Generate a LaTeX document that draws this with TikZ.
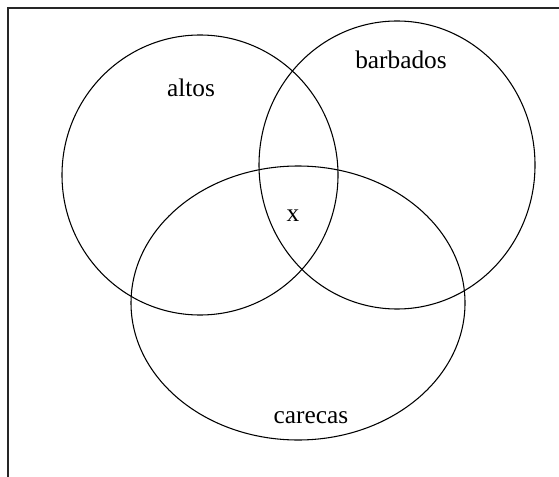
\documentclass[tikz,border=0pt]{standalone}
\usepackage{fontspec}
\setmainfont{Liberation Serif}
\usetikzlibrary{positioning}

\begin{document}
\begin{tikzpicture}[x=0.75pt, y=-0.75pt, every node/.style={font=\fontsize{19}{22}\selectfont, inner sep=0pt, anchor=base}]
    \useasboundingbox (0,0) rectangle (559,477);
    % frame, only top and left edges show
    \draw[line width=1.5pt, black!85] (8,477) -- (8,8) -- (559,8);

    % the three sets
    \draw[line width=0.8pt] (200,175) ellipse [x radius=138, y radius=140];
    \draw[line width=0.8pt] (397,165) ellipse [x radius=138, y radius=144];
    \draw[line width=0.8pt] (298,303) ellipse [x radius=167, y radius=137];

    \node (altos) at (191,97) {altos};
    \node (barbados) at (401,69) {barbados};
    \node (x) at (293,221) {x};
    \node (carecas) at (311,423) {carecas};
\end{tikzpicture}
\end{document}
